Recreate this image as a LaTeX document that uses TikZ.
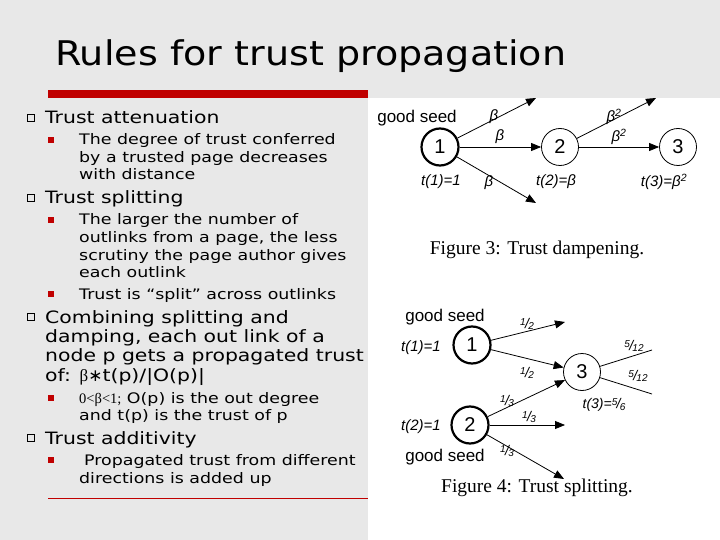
\documentclass[tikz,border=0pt]{standalone}
\usepackage{fontspec}
\setmainfont{DejaVu Sans}[FakeStretch=1.2]
\newfontfamily\titlef{DejaVu Sans}[FakeStretch=1.12]
\newfontfamily\dvf{DejaVu Sans}
\newfontfamily\arialf{Liberation Sans}
\newfontfamily\timesf{Liberation Serif}
\usetikzlibrary{arrows.meta}
\definecolor{bg}{HTML}{E8E8E8}
\definecolor{redb}{HTML}{C00000}
\tikzset{
 lvone/.style={anchor=base west,font=\fontsize{17}{17}\selectfont,inner sep=0},
 lvtwo/.style={anchor=base west,font=\fontsize{14.5}{14}\selectfont,inner sep=0},
 box/.style={draw,minimum size=7,inner sep=0,line width=0.6},
 rbox/.style={fill=redb,minimum size=6,inner sep=0},
 thk/.style={circle,draw,line width=2.2,minimum size=37,inner sep=0,font=\arialf\fontsize{20}{20}\selectfont},
 thn/.style={circle,draw,line width=0.8,minimum size=37,inner sep=0,font=\arialf\fontsize{20}{20}\selectfont},
 arr/.style={-{Triangle[length=10,width=8]},line width=0.8},
 lab/.style={font=\arialf\itshape\fontsize{15}{15}\selectfont,inner sep=0},
 rlab/.style={font=\arialf\fontsize{17}{17}\selectfont,inner sep=0},
 sm/.style={font=\arialf\itshape\fontsize{14}{14}\selectfont,inner sep=0},
 capt/.style={font=\timesf\fontsize{19.5}{19.5}\selectfont,inner sep=0},
}
\newcommand\fr[2]{\raisebox{0.4ex}{\fontsize{10}{10}\selectfont #1}\kern-0.05em/\kern-0.05em\raisebox{-0.25ex}{\fontsize{10}{10}\selectfont #2}}
\begin{document}
\begin{tikzpicture}[x=1pt,y=-1pt]
\useasboundingbox (0,0) rectangle (720,540);
\fill[bg] (0,0) rectangle (720,540);
\fill[white] (368,98) rectangle (720,540);
\fill[redb] (48,90) rectangle (368,98);
\draw[redb,line width=0.8] (48,498) -- (368,498);
\node[anchor=base west,inner sep=0,font=\titlef\fontsize{34}{34}\selectfont] (title) at (55,66) {Rules for trust propagation};
% left text
\node[box] (b1) at (31,118) {};
\node[lvone] (t1) at (45,124) {Trust attenuation};
\node[rbox] (r1) at (51,140) {};
\node[lvtwo] at (79,145) {The degree of trust conferred};
\node[lvtwo] at (79,163) {by a trusted page decreases};
\node[lvtwo] at (79,180) {with distance};
\node[box] (b2) at (31,198) {};
\node[lvone] at (45,204) {Trust splitting};
\node[rbox] at (51,220) {};
\node[lvtwo] at (79,225) {The larger the number of};
\node[lvtwo] at (79,243) {outlinks from a page, the less};
\node[lvtwo] at (79,260) {scrutiny the page author gives};
\node[lvtwo] at (79,277) {each outlink};
\node[rbox] at (51,294) {};
\node[lvtwo] at (79,299) {Trust is “split” across outlinks};
\node[box] at (31,317) {};
\node[lvone] at (45,323) {Combining splitting and};
\node[lvone] at (45,342) {damping, each out link of a};
\node[lvone] at (45,361) {node p gets a propagated trust};
\node[lvone] at (45,381) {of: {\timesf β}{\dvf ∗}t(p)/|O(p)|};
\node[rbox] at (51,398) {};
\node[lvtwo] at (79,403) {{\timesf 0<β<1;} O(p) is the out degree};
\node[lvtwo] at (79,420) {and t(p) is the trust of p};
\node[box] at (31,438) {};
\node[lvone] at (45,444) {Trust additivity};
\node[rbox] at (51,460) {};
\node[lvtwo] at (84,465) {Propagated trust from different};
\node[lvtwo] at (79,483) {directions is added up};
% figure 3
\node[thk] (n1) at (440,147) {1};
\node[thn] (n2) at (560,147) {2};
\node[thn] (n3) at (678,147) {3};
\coordinate (u1) at (536,98); \coordinate (d1) at (536,203); \coordinate (u2) at (656,98);
\draw[arr] (n1) -- (u1);
\draw[arr] (n1) -- (n2);
\draw[arr] (n1) -- (d1);
\draw[arr] (n2) -- (u2);
\draw[arr] (n2) -- (n3);
\node[rlab] at (417,118) {good seed};
\node[lab] at (494,117) {β};
\node[lab] at (500,137) {β};
\node[lab] at (489,183) {β};
\node[lab] at (614,117) {β\textsuperscript{2}};
\node[lab] at (619,137) {β\textsuperscript{2}};
\node[lab] at (441,182) {t(1)=1};
\node[lab] at (556,182) {t(2)=β};
\node[lab] at (664,182) {t(3)=β\textsuperscript{2}};
\node[capt] at (537,250) {Figure 3: Trust dampening.};
% figure 4
\node[thk] (m1) at (472,345) {1};
\node[thn] (m3) at (582,372) {3};
\node[thk] (m2) at (470,425) {2};
\coordinate (a1) at (565,322); \coordinate (a2) at (565,425); \coordinate (a3) at (564,479);
\coordinate (o1) at (652,350); \coordinate (o2) at (652,394);
\draw[arr] (m1) -- (a1);
\draw[arr] (m1) -- (m3);
\draw[arr] (m2) -- (m3);
\draw[arr] (m2) -- (a2);
\draw[arr] (m2) -- (a3);
\draw[line width=0.8] (m3) -- (o1);
\draw[line width=0.8] (m3) -- (o2);
\node[rlab] at (445,317) {good seed};
\node[rlab] at (445,457) {good seed};
\node[lab] at (421,348) {t(1)=1};
\node[lab] at (421,427) {t(2)=1};
\node[sm] at (604,405) {t(3)=\fr56};
\node[sm] at (527,324) {\fr12};
\node[sm] at (527,373) {\fr12};
\node[sm] at (507,401) {\fr13};
\node[sm] at (529,417) {\fr13};
\node[sm] at (507,451) {\fr13};
\node[sm] at (634,346) {\fr5{12}};
\node[sm] at (638,376) {\fr5{12}};
\node[capt] at (537,488) {Figure 4: Trust splitting.};
\end{tikzpicture}
\end{document}
